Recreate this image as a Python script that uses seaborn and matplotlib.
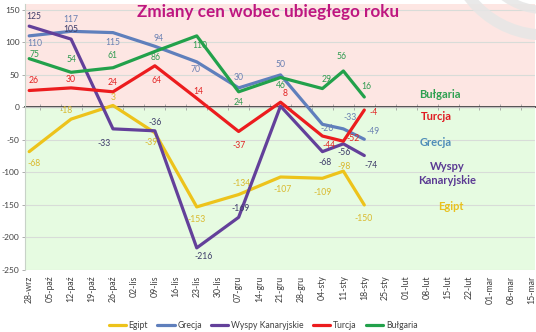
import numpy as np
import pandas as pd
import matplotlib
matplotlib.use("Agg")
import matplotlib.pyplot as plt
from matplotlib.patches import Arc
from matplotlib.lines import Line2D
import seaborn as sns

# ---------------- data ----------------
tick_labels = ['28-wrz', '05-paź', '12-paź', '19-paź', '26-paź', '02-lis', '09-lis',
               '16-lis', '23-lis', '30-lis', '07-gru', '14-gru', '21-gru', '28-gru',
               '04-sty', '11-sty', '18-sty', '25-sty', '01-lut', '08-lut', '15-lut',
               '22-lut', '01-mar', '08-mar', '15-mar']
point_dates = ['28-wrz', '12-paź', '26-paź', '09-lis', '23-lis', '07-gru', '21-gru',
               '04-sty', '11-sty', '18-sty']
series_names = ['Egipt', 'Grecja', 'Wyspy Kanaryjskie', 'Turcja', 'Bułgaria']
egipt = [-68, -18, 3, -39, -153, -134, -107, -109, -98, -150]
grecja = [110, 117, 115, 94, 70, 30, 50, -26, -33, -49]
wyspy = [125, 105, -33, -36, -216, -169, 2, -68, -56, -74]
turcja = [26, 30, 24, 64, 14, -37, 8, -44, -52, -4]
bulgaria = [75, 54, 61, 86, 110, 24, 46, 29, 56, 16]
y_ticks = [-250, -200, -150, -100, -50, 0, 50, 100, 150]
title = 'Zmiany cen wobec ubiegłego roku'

# ---------------- style ----------------
line_colors = {'Egipt': '#EDC31B', 'Grecja': '#5F7FBC', 'Wyspy Kanaryjskie': '#63409A',
               'Turcja': '#EC1C1E', 'Bułgaria': '#22A14B'}
label_colors = {'Egipt': '#D9B92E', 'Grecja': '#6A80B2', 'Wyspy Kanaryjskie': '#3E3C6A',
                'Turcja': '#E22323', 'Bułgaria': '#2F9B50'}
side_colors = {'Egipt': '#E9C11E', 'Grecja': '#4F8DB8', 'Wyspy Kanaryjskie': '#5B3A93',
               'Turcja': '#E01B22', 'Bułgaria': '#2EA050'}

sns.set_theme(style='white')
plt.rcParams['font.family'] = ['Lato', 'DejaVu Sans']
plt.rcParams['axes.unicode_minus'] = False

W, H = 536, 332
fig = plt.figure(figsize=(W / 100, H / 100), dpi=100)
ax_left, ax_right, ax_top, ax_bot = 25, 535, 4, 270
ax = fig.add_axes([ax_left / W, 1 - ax_bot / H, (ax_right - ax_left) / W, (ax_bot - ax_top) / H])

ymin, ymax = -250, 159
ax.set_ylim(ymin, ymax)
ax.set_xlim(-0.2, 24.15)

# background bands
ax.axhspan(0, ymax, color='#FDE6E3', zorder=0, lw=0)
ax.axhspan(ymin, 0, color='#E6FBE1', zorder=0, lw=0)
for yt in y_ticks:
    ax.axhline(yt, color='#D8DCD8', lw=0.8, zorder=0.5)
ax.axhline(0, color='#BFBFBF', lw=0.9, zorder=0.6)

# long-form data
pos = [tick_labels.index(d) for d in point_dates]
values = {'Egipt': egipt, 'Grecja': grecja, 'Wyspy Kanaryjskie': wyspy,
          'Turcja': turcja, 'Bułgaria': bulgaria}
rows = []
for s in series_names:
    for p, v in zip(pos, values[s]):
        rows.append({'x': p, 'value': v, 'series': s})
df = pd.DataFrame(rows)

sns.lineplot(data=df, x='x', y='value', hue='series', hue_order=series_names,
             palette=line_colors, linewidth=2.3, ax=ax, legend=False, zorder=3,
             sort=False)

# data labels: pixel offsets (dx right, dy down)
offsets = {
    'Wyspy Kanaryjskie': [(5, -10), (0, -10), (-9, 15), (0, -8), (7, 9), (2, -9), None,
                          (3, 11), (1, 9), (7, 10)],
    'Grecja': [(6, 8), (0, -12), (0, 10), (4, -8), (-1, 8), (0, -10), (0, -10),
               (5, 4), (7, -11), (9, -8)],
    'Bułgaria': [(5, -4), (0, -13), (0, -12), (1, 6), (3, 10), (0, 11), (0, 8),
                 (4, -9), (-2, -14), (2, -11)],
    'Turcja': [(4, -10), (0, -8), (0, -9), (2, 15), (2, -7), (0, 14), (5, -9),
               (7, 9), (10, -3), (9, 2)],
    'Egipt': [(5, 12), (-5, -9), (0, -8), (-4, 10), (0, 13), (3, -11), (2, 13),
              (0, 14), (1, -5), (-1, 14)],
}
for s in series_names:
    for p, v, off in zip(pos, values[s], offsets[s]):
        if off is None:
            continue
        ax.annotate(str(v), (p, v), xytext=(off[0], -off[1]), textcoords='offset pixels',
                    ha='center', va='center', fontsize=6.2, color=label_colors[s],
                    zorder=5)

# axes styling
ax.set_yticks(y_ticks)
ax.set_yticklabels([str(t) for t in y_ticks])
ax.set_xticks(range(len(tick_labels)))
ax.set_xticklabels(tick_labels, rotation=90)
ax.tick_params(axis='x', length=0, pad=4, labelsize=6.3, labelcolor='#404040')
ax.tick_params(axis='y', length=2.5, width=0.6, color='#A0A0A0', pad=1.5, labelsize=6,
               labelcolor='#404040', left=True)
ax.set_xlabel('')
ax.set_ylabel('')
for sp in ['top', 'right', 'bottom']:
    ax.spines[sp].set_visible(False)
ax.spines['left'].set_color('#C8D2C8')
ax.spines['left'].set_linewidth(0.8)

# small tick marks along zero line
sec = ax.secondary_xaxis((0 - ymin) / (ymax - ymin))
sec.set_xticks([i + 0.5 for i in range(-1, len(tick_labels))])
sec.set_xticklabels([])
sec.tick_params(axis='x', length=4, width=0.6, color='#A0A0A0', direction='inout')
sec.spines['bottom'].set_visible(False)

# title
fig.text(268 / W, 1 - 12 / H, title, ha='center', va='center', fontsize=12.3,
         fontweight='bold', color='#BE1680')

# side labels
side = [('Bułgaria', 'Bułgaria', 440, 94), ('Turcja', 'Turcja', 436, 117),
        ('Grecja', 'Grecja', 436, 143), ('Wyspy Kanaryjskie', 'Wyspy', 447, 166),
        ('Wyspy Kanaryjskie', 'Kanaryjskie', 447, 181), ('Egipt', 'Egipt', 451, 207)]
for key, txt, x, y in side:
    fig.text(x / W, 1 - y / H, txt, ha='center', va='center', fontsize=8,
             fontweight='bold', color=side_colors[key])

# decorative watermark arcs
for r, lw in [(95, 8), (70, 6)]:
    arc = Arc((545 / W, 1 + 60 / H), 2 * r / W, 2 * r / H, theta1=180, theta2=360,
              transform=fig.transFigure, color='#E6E6E6', lw=lw, alpha=0.85, zorder=10)
    fig.add_artist(arc)

# legend
handles = [Line2D([0], [0], color=line_colors[s], lw=2.3) for s in series_names]
fig.legend(handles, series_names, loc='center', bbox_to_anchor=(263 / W, 1 - 326 / H),
           ncol=5, frameon=False, fontsize=6.2, handlelength=2.0, handletextpad=0.3,
           columnspacing=1.1, labelcolor='#404040')

fig.savefig('out.png', dpi=100)
